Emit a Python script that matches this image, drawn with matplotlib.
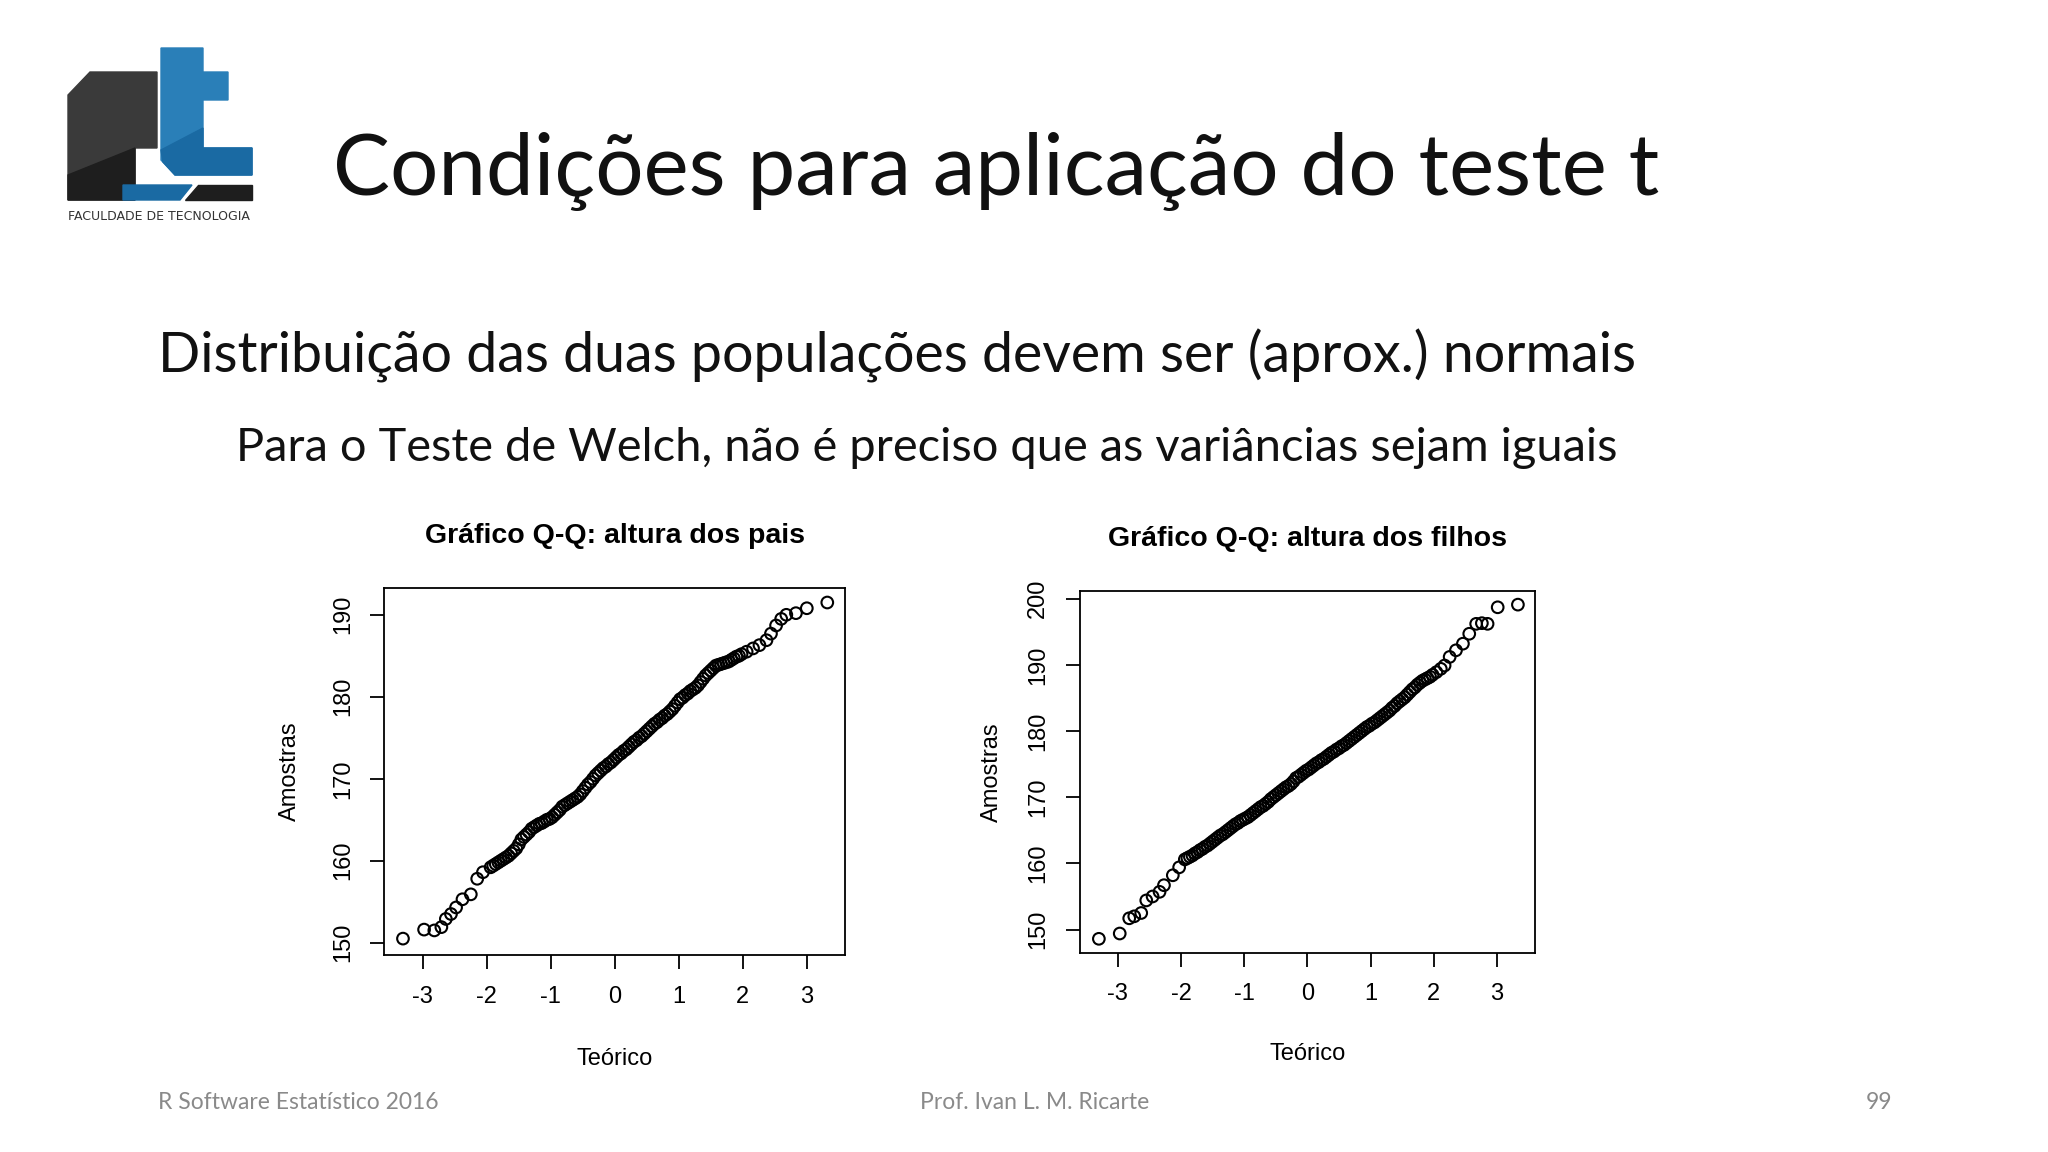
import matplotlib
matplotlib.use("Agg")
import matplotlib.pyplot as plt
from matplotlib.patches import Polygon

# theoretical quantiles / sample heights
pais_x = [-3.31, -2.98, -2.82, -2.71, -2.64, -2.56, -2.48, -2.38, -2.25, -2.15, -2.06,
          -1.94, -1.86, -1.78, -1.70, -1.62, -1.54, -1.46, -1.38, -1.30, -1.22, -1.14, -1.06,
          -0.98, -0.90, -0.82, -0.74, -0.66, -0.58, -0.50, -0.42, -0.34, -0.26, -0.18, -0.10,
          -0.02, 0.06, 0.14, 0.22, 0.30, 0.38, 0.46, 0.54, 0.62, 0.70, 0.78, 0.86, 0.94, 1.02,
          1.10, 1.18, 1.26, 1.34, 1.42, 1.50, 1.58, 1.66, 1.74, 1.82, 1.90, 1.98,
          2.06, 2.16, 2.26, 2.37, 2.44, 2.52, 2.60, 2.68, 2.83, 3.00, 3.32]
pais_y = [150.5, 151.6, 151.5, 151.9, 152.9, 153.5, 154.3, 155.3, 155.9, 157.8, 158.6,
          159.2, 159.6, 160.0, 160.4, 160.9, 161.5, 162.6, 163.2, 163.9, 164.3, 164.6, 165.0,
          165.3, 165.9, 166.6, 167.0, 167.4, 167.8, 168.5, 169.3, 170.0, 170.7, 171.3, 171.8,
          172.3, 172.9, 173.4, 173.9, 174.5, 175.0, 175.5, 176.1, 176.7, 177.2, 177.7, 178.2,
          178.9, 179.7, 180.2, 180.7, 181.1, 181.8, 182.6, 183.2, 183.8, 184.0, 184.2, 184.5,
          184.9, 185.2, 185.5, 185.9, 186.3, 186.9, 187.7, 188.7, 189.5, 190.0, 190.2, 190.8,
          191.5]

filhos_x = [-3.30, -2.97, -2.82, -2.74, -2.63, -2.55, -2.45, -2.34, -2.27, -2.13, -2.03,
            -1.94, -1.86, -1.78, -1.70, -1.62, -1.54, -1.46, -1.38, -1.30, -1.22, -1.14, -1.06,
            -0.98, -0.90, -0.82, -0.74, -0.66, -0.58, -0.50, -0.42, -0.34, -0.26, -0.18, -0.10,
            -0.02, 0.06, 0.14, 0.22, 0.30, 0.38, 0.46, 0.54, 0.62, 0.70, 0.78, 0.86, 0.94, 1.02,
            1.10, 1.18, 1.26, 1.34, 1.42, 1.50, 1.58, 1.66, 1.74, 1.82, 1.90, 1.98,
            2.04, 2.11, 2.17, 2.25, 2.35, 2.46, 2.56, 2.67, 2.76, 2.85, 3.01, 3.33]
filhos_y = [148.6, 149.4, 151.7, 152.0, 152.5, 154.4, 155.0, 155.7, 156.7, 158.2, 159.4,
            160.6, 161.0, 161.5, 162.0, 162.5, 163.0, 163.6, 164.2, 164.7, 165.3, 165.9, 166.4,
            166.8, 167.3, 167.9, 168.5, 169.0, 169.7, 170.3, 170.9, 171.5, 172.0, 172.9, 173.4,
            174.0, 174.5, 175.1, 175.6, 176.1, 176.7, 177.2, 177.7, 178.2, 178.8, 179.4, 180.0,
            180.6, 181.1, 181.6, 182.2, 182.8, 183.5, 184.2, 184.8, 185.5, 186.3, 187.0, 187.6,
            188.0, 188.5, 188.9, 189.4, 189.9, 191.2, 192.2, 193.2, 194.7, 196.2, 196.3, 196.2,
            198.7, 199.1]

# extra points in the dense middle of both plots
meio_x = [-1.90, -1.82, -1.74, -1.66, -1.58, -1.50, -1.42, -1.34, -1.26, -1.18, -1.10, -1.02,
          -0.94, -0.86, -0.78, -0.70, -0.62, -0.54, -0.46, -0.38, -0.30, -0.22, -0.14, -0.06,
          0.02, 0.10, 0.18, 0.26, 0.34, 0.42, 0.50, 0.58, 0.66, 0.74, 0.82, 0.90, 0.98, 1.06,
          1.14, 1.22, 1.30, 1.38, 1.46, 1.54, 1.62, 1.70, 1.78, 1.86, 1.94]
pais_meio_y = [159.4, 159.8, 160.2, 160.6, 161.2, 162.0, 162.9, 163.5, 164.1, 164.5, 164.8, 165.1,
               165.6, 166.2, 166.8, 167.2, 167.6, 168.1, 168.9, 169.6, 170.4, 171.0, 171.5, 172.0,
               172.6, 173.1, 173.6, 174.2, 174.7, 175.2, 175.8, 176.4, 176.9, 177.4, 177.9, 178.5,
               179.3, 179.9, 180.4, 180.9, 181.4, 182.2, 182.9, 183.5, 183.9, 184.1, 184.3, 184.7,
               185.0]
filhos_meio_y = [160.8, 161.2, 161.7, 162.2, 162.7, 163.3, 163.9, 164.4, 165.0, 165.6, 166.1, 166.6,
                 167.0, 167.6, 168.2, 168.7, 169.3, 170.0, 170.6, 171.2, 171.7, 172.4, 173.1, 173.7,
                 174.2, 174.8, 175.3, 175.8, 176.4, 176.9, 177.4, 177.9, 178.5, 179.1, 179.7, 180.3,
                 180.8, 181.3, 181.9, 182.5, 183.1, 183.8, 184.5, 185.1, 185.9, 186.6, 187.3, 187.8,
                 188.2]

x_ticks = [-3, -2, -1, 0, 1, 2, 3]
pais_yticks = [150, 160, 170, 180, 190]
filhos_yticks = [150, 160, 170, 180, 190, 200]

fig = plt.figure(figsize=(20.48, 11.52), dpi=100)
fig.patch.set_facecolor("white")

# logo, in full-size pixel coordinates
bg = fig.add_axes([0, 0, 1, 1])
bg.set_xlim(0, 2048)
bg.set_ylim(1152, 0)
bg.axis("off")
f_shape = [(68, 200), (68, 95), (90, 72), (157, 72), (157, 148), (135, 148), (135, 200)]
bg.add_patch(Polygon(f_shape, closed=True, color="#3a3a3a"))
bg.add_patch(Polygon([(68, 200), (68, 175), (135, 148), (135, 200)], closed=True, color="#1e1e1e"))
t_shape = [(161, 48), (203, 48), (203, 72), (228, 72), (228, 100), (203, 100), (203, 148),
           (252, 148), (252, 175), (175, 175), (161, 160)]
bg.add_patch(Polygon(t_shape, closed=True, color="#2a7fb8"))
bg.add_patch(Polygon([(161, 150), (203, 128), (203, 148), (252, 148), (252, 175), (175, 175), (163, 162)],
                     closed=True, color="#1a6aa3"))
bg.add_patch(Polygon([(123, 185), (192, 185), (180, 200), (123, 200)], closed=True, color="#1a6aa3"))
bg.add_patch(Polygon([(198, 185), (252, 185), (252, 200), (185, 200)], closed=True, color="#1e1e1e"))
bg.text(68, 216, "FACULDADE DE TECNOLOGIA", fontsize=9, color="#333333", va="center", ha="left")

fig.text(0.1624, 0.851, "Condições para aplicação do teste t", fontsize=61.5, family="Lato",
         va="center", ha="left", color="#111111")
fig.text(0.0773, 0.691, "Distribuição das duas populações devem ser (aprox.) normais", fontsize=40,
         family="Lato", va="center", ha="left", color="#111111")
fig.text(0.1153, 0.611, "Para o Teste de Welch, não é preciso que as variâncias sejam iguais", fontsize=33.8,
         family="Lato", va="center", ha="left", color="#111111")

fig.text(0.0773, 0.043, "R Software Estatístico 2016", fontsize=16.5, family="Lato", color="#8a8a8a", va="center")
fig.text(0.505, 0.043, "Prof. Ivan L. M. Ricarte", fontsize=16.5, family="Lato", color="#8a8a8a",
         va="center", ha="center")
fig.text(0.9175, 0.043, "99", fontsize=16.5, family="Lato", color="#8a8a8a", va="center", ha="center")


def qq_panel(rect, xs, ys, ylim, yticks, title, title_y, ylab_x, xlab_y):
    ax = fig.add_axes(rect)
    ax.scatter(xs, ys, s=70, facecolors="none", edgecolors="black", linewidths=1.5)
    ax.set_xlim(-3.6, 3.6)
    ax.set_ylim(*ylim)
    ax.set_xticks(x_ticks)
    ax.set_xticklabels([str(v) for v in x_ticks], family="Liberation Sans", fontsize=17)
    ax.set_yticks(yticks)
    ax.set_yticklabels([str(v) for v in yticks], family="Liberation Sans", fontsize=17,
                       rotation=90, va="center")
    ax.tick_params(length=10, width=1.3, pad=12)
    for s in ax.spines.values():
        s.set_linewidth(1.3)
    cx = rect[0] + rect[2] / 2
    fig.text(cx, title_y, title, family="Liberation Sans", fontsize=20.5, fontweight="bold",
             ha="center", va="center")
    fig.text(cx, xlab_y, "Teórico", family="Liberation Sans", fontsize=17, ha="center", va="center")
    fig.text(ylab_x, rect[1] + rect[3] / 2, "Amostras", family="Liberation Sans", fontsize=17,
             ha="center", va="center", rotation=90)
    return ax


qq_panel([0.1877, 0.1710, 0.2250, 0.3188], pais_x + meio_x, pais_y + pais_meio_y, (148.5, 193.3),
         pais_yticks, "Gráfico Q-Q: altura dos pais", 0.5343, 0.1418, 0.081)
qq_panel([0.5273, 0.1730, 0.2222, 0.3142], filhos_x + meio_x, filhos_y + filhos_meio_y, (146.5, 201.2),
         filhos_yticks, "Gráfico Q-Q: altura dos filhos", 0.532, 0.4845, 0.085)

fig.savefig("out.png", dpi=100, facecolor="white")
